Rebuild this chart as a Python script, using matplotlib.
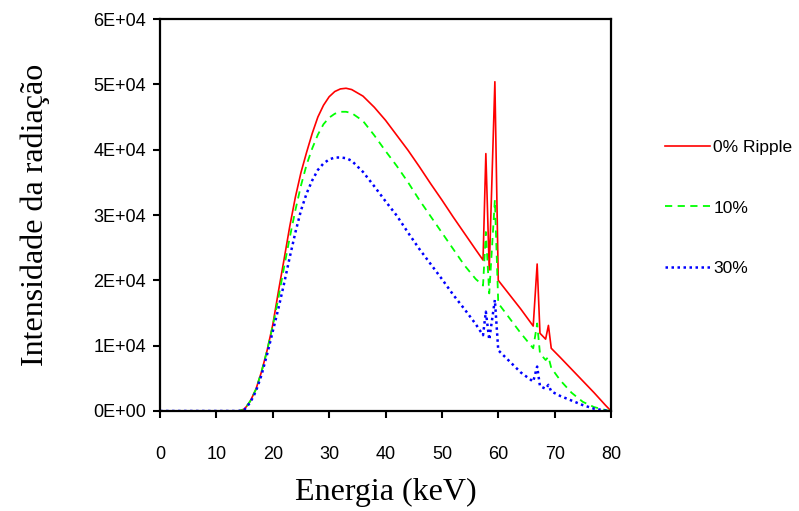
"""X-ray spectrum intensity vs energy for different voltage ripple levels."""

import matplotlib
matplotlib.use("Agg")
import matplotlib.pyplot as plt


energy_kev = [0, 13, 14, 15, 16, 17, 18, 19, 20, 21, 22, 23, 24, 25, 26, 27, 28, 29,
              30, 31, 32, 33, 34, 36, 38, 40, 42, 44, 46, 48, 50, 52, 54, 56,
              57.3, 57.8, 58.4, 59.4, 60.0, 62, 64, 66.2, 66.9, 67.4, 68.4, 68.9, 69.4,
              71, 73, 75, 77, 79, 80]

ripple_0 = [0, 0, 0, 300, 1500, 3300, 6000, 9300, 13200, 18300, 23200, 28200, 32700,
            36500, 39600, 42500, 45000, 46800, 48100, 48900, 49300, 49400, 49200,
            48200, 46500, 44500, 42200, 39900, 37400, 34800, 32300, 29700, 27200, 24700,
            23100, 39400, 21600, 50400, 20000, 17800, 15600, 13000, 22500, 11900, 11000,
            13100, 9600, 8200, 6400, 4600, 2800, 900, 0]

ripple_10 = [0, 0, 0, 300, 1500, 3300, 6000, 9300, 13000, 17300, 22000, 26500, 30700,
             34500, 37700, 40200, 42300, 43900, 44900, 45500, 45800, 45800, 45600,
             44400, 42200, 39800, 37500, 35000, 32300, 29800, 27300, 24800, 22300, 20200,
             19200, 27400, 18000, 32300, 16500, 14200, 11900, 9600, 13400, 8800, 7800,
             8300, 6600, 4700, 2800, 1400, 600, 150, 0]

ripple_30 = [0, 0, 0, 250, 1300, 3000, 5500, 8700, 12200, 15700, 19500, 23500, 27300,
             30700, 33300, 35300, 36900, 37900, 38500, 38800, 38800, 38700, 38300,
             36600, 34400, 32100, 29900, 27300, 24800, 22500, 20200, 17800, 15600, 13300,
             11600, 15200, 10900, 17000, 9300, 7600, 5900, 4500, 6800, 3800, 3400,
             4000, 3000, 2300, 1600, 900, 350, 80, 0]

series_labels = ["0% Ripple", "10%", "30%"]
x_ticks = [0, 10, 20, 30, 40, 50, 60, 70, 80]
y_ticks = [0, 10000, 20000, 30000, 40000, 50000, 60000]
y_tick_labels = ["0E+00", "1E+04", "2E+04", "3E+04", "4E+04", "5E+04", "6E+04"]


def run():
    plt.rcParams["font.family"] = ["Liberation Sans", "DejaVu Sans"]

    fig = plt.figure(figsize=(7.99, 5.11), dpi=100)
    ax = fig.add_axes([0.2003, 0.1957, 0.5644, 0.7671])

    ax.plot(energy_kev, ripple_0, color="#ff0000", lw=1.2, label=series_labels[0])
    ax.plot(energy_kev, ripple_10, color="#00ff00", lw=1.3, dashes=(4, 3),
            label=series_labels[1])
    ax.plot(energy_kev, ripple_30, color="#0000ff", lw=1.8, dashes=(1, 1.4),
            label=series_labels[2])

    ax.set_xlim(0, 80)
    ax.set_ylim(0, 60000)
    ax.set_xticks(x_ticks)
    ax.set_xticklabels([str(t) for t in x_ticks])
    ax.set_yticks(y_ticks)
    ax.set_yticklabels(y_tick_labels)
    ax.tick_params(axis="both", direction="out", length=5, width=1.5, labelsize=13)
    ax.tick_params(axis="x", pad=20)
    ax.tick_params(axis="y", pad=5)
    for spine in ax.spines.values():
        spine.set_linewidth(1.6)

    serif = ["Liberation Serif", "DejaVu Serif"]
    ax.set_xlabel("Energia (keV)", family=serif, fontsize=23, labelpad=11)
    ax.set_ylabel("Intensidade da radiação", family=serif, fontsize=23, labelpad=31)

    # legend sits outside the axes on the right, no frame
    fig.legend(loc="center left", bbox_to_anchor=(0.832, 0.593), frameon=False,
               fontsize=12.5, handlelength=2.6, handletextpad=0.2, labelspacing=2.6,
               borderpad=0, borderaxespad=0)

    fig.savefig("out.png", dpi=100)
    plt.close(fig)


if __name__ == "__main__":
    run()
